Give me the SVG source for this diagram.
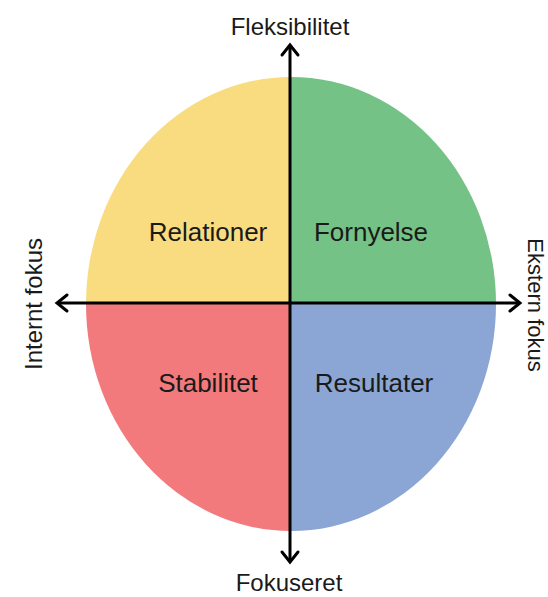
<svg xmlns="http://www.w3.org/2000/svg" width="548" height="597" viewBox="0 0 548 597">
  <style>
    .lbl { font-family: "Liberation Sans", Arial, sans-serif; fill: #1a1a1a; text-anchor: middle; }
    .quad { font-size: 26px; }
    .axis-lbl { font-size: 24px; }
    .side { font-size: 22px; }
    .axis { stroke: #000; stroke-width: 3; fill: none; }
    .head { stroke: #000; stroke-width: 3; fill: none; stroke-linecap: round; stroke-linejoin: miter; }
  </style>
  <defs>
    <clipPath id="disc">
      <ellipse cx="291" cy="304" rx="205" ry="227"/>
    </clipPath>
  </defs>
  <rect width="548" height="597" fill="#fff"/>

  <!-- four quadrants of the disc -->
  <g clip-path="url(#disc)">
    <g id="relationer"><rect x="80" y="70" width="211" height="234" fill="#F9DC80"/></g>
    <g id="fornyelse"><rect x="291" y="70" width="211" height="234" fill="#74C286"/></g>
    <g id="stabilitet"><rect x="80" y="304" width="211" height="234" fill="#F27A7D"/></g>
    <g id="resultater"><rect x="291" y="304" width="211" height="234" fill="#8BA6D4"/></g>
  </g>

  <!-- quadrant labels -->
  <text class="lbl quad" x="208" y="241">Relationer</text>
  <text class="lbl quad" x="371" y="241">Fornyelse</text>
  <text class="lbl quad" x="208" y="392">Stabilitet</text>
  <text class="lbl quad" x="374" y="392">Resultater</text>

  <!-- axes with open arrowheads -->
  <g id="connectors">
    <line class="axis" x1="290" y1="46" x2="290" y2="560"/>
    <line class="axis" x1="59" y1="303" x2="518" y2="303"/>
    <polyline class="head" points="282,55 290,45 298,55"/>
    <polyline class="head" points="282,552 290,562 298,552"/>
    <polyline class="head" points="67,295 57,303 67,311"/>
    <polyline class="head" points="510,295 520,303 510,311"/>
  </g>

  <!-- axis labels -->
  <text class="lbl axis-lbl" x="290" y="35">Fleksibilitet</text>
  <text class="lbl axis-lbl" x="289" y="591">Fokuseret</text>
  <text class="lbl axis-lbl" transform="translate(42 304) rotate(-90)" x="0" y="0">Internt fokus</text>
  <text class="lbl side" transform="translate(528 305) rotate(90)" x="0" y="0">Ekstern fokus</text>
</svg>
